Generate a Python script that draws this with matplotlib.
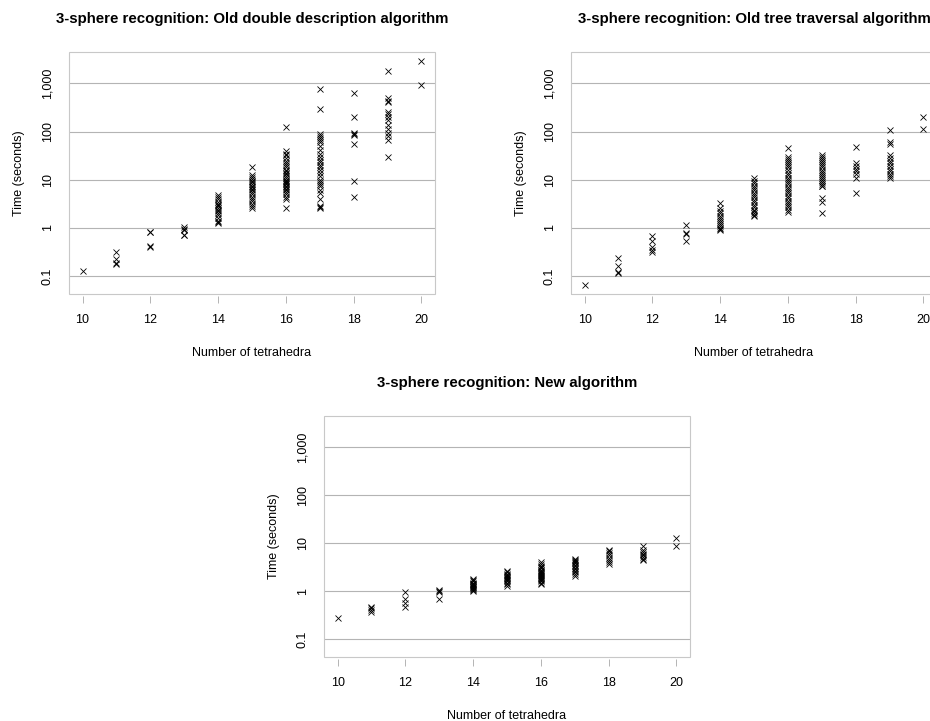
import matplotlib
matplotlib.use("Agg")
import matplotlib.pyplot as plt
from matplotlib.patches import Rectangle

plt.rcParams['font.family'] = ['Liberation Sans', 'DejaVu Sans']

n_tet = [10, 11, 12, 13, 14, 15, 16, 17, 18, 19, 20]

# old double description algorithm, seconds per triangulation
dd_times = [
    [0.13],
    [0.32, 0.23, 0.18, 0.19],
    [0.84, 0.82, 0.42, 0.41],
    [1.03, 0.95, 0.9, 0.72, 0.7],
    [4.9, 4.3, 3.9, 3.5, 3.2, 3.0, 2.8, 2.6, 2.4, 2.2, 2.0, 1.9, 1.6, 1.4, 1.3, 1.27],
    [18, 12.7, 11.5, 10.5, 9.5, 9, 8.2, 7.6, 7, 6.5, 6, 5.5, 5, 4.5, 4, 3.6, 3.2, 2.9, 2.6],
    [126, 40, 35, 32, 28, 25, 22, 20, 18, 16, 15, 14, 13, 12, 11, 10, 9.5, 9, 8.5, 8,
     7.5, 7, 6.5, 6, 5.5, 5, 4.5, 4, 2.6],
    [750, 300, 88, 80, 75, 67, 60, 50, 42, 35, 30, 26, 23, 20, 18, 16, 14, 12, 10,
     9, 8, 7.3, 6, 5.3, 4, 2.9, 2.7, 2.6],
    [640, 200, 93, 88, 83, 55, 9.25, 4.5],
    [1800, 490, 440, 420, 260, 230, 200, 175, 140, 115, 95, 80, 67, 29.5],
    [2950, 930],
]

# old tree traversal algorithm
tree_times = [
    [0.065],
    [0.24, 0.16, 0.117, 0.12],
    [0.69, 0.53, 0.41, 0.35, 0.32],
    [1.13, 0.79, 0.75, 0.55],
    [3.3, 2.6, 2.3, 2.0, 1.8, 1.6, 1.5, 1.35, 1.2, 1.1, 1.0, 0.95, 0.93],
    [10.8, 9.5, 8.5, 7.5, 6.8, 6, 5.4, 4.8, 4.3, 3.8, 3.4, 3.0, 2.7, 2.4, 2.2, 2.0, 1.85, 1.74],
    [45, 30, 27, 24, 22, 20, 18, 16, 14, 12.5, 11, 10, 9, 8, 7.2, 6.5, 5.8, 5.2,
     4.6, 4.1, 3.7, 3.3, 3, 2.7, 2.4, 2.1],
    [33, 30, 27, 25, 22, 20, 18, 16, 14.5, 13, 12, 11, 10, 9, 8.2, 7.5, 7.3, 4.2, 3.4, 2.0],
    [48, 22, 19, 17, 15, 13, 11, 5.3],
    [108, 62, 56, 33, 28, 25, 22, 19, 17, 15, 13, 12, 10.8],
    [200, 112],
]

# new algorithm
new_times = [
    [0.28],
    [0.47, 0.44, 0.41, 0.37],
    [0.95, 0.69, 0.57, 0.47],
    [1.07, 1.02, 0.98, 0.69],
    [1.8, 1.7, 1.6, 1.5, 1.45, 1.4, 1.35, 1.3, 1.25, 1.2, 1.15, 1.1, 1.05, 1.0],
    [2.7, 2.5, 2.3, 2.2, 2.1, 2.0, 1.9, 1.8, 1.7, 1.6, 1.5, 1.4, 1.3],
    [4.0, 3.7, 3.4, 3.2, 3.0, 2.8, 2.6, 2.5, 2.4, 2.3, 2.2, 2.1, 2.0, 1.9, 1.8,
     1.7, 1.6, 1.5, 1.4],
    [4.8, 4.5, 4.2, 4.0, 3.8, 3.5, 3.3, 3.1, 2.9, 2.7, 2.5, 2.3, 2.1],
    [7.3, 6.8, 6.2, 5.6, 5.0, 4.5, 4.0, 3.7],
    [8.9, 7.2, 6.5, 6.0, 5.6, 5.2, 4.8, 4.4],
    [13.1, 8.9],
]

y_ticks = [0.1, 1, 10, 100, 1000]
y_labels = ['0.1', '1', '10', '100', '1,000']
x_ticks = [10, 12, 14, 16, 18, 20]

fig = plt.figure(figsize=(9.3, 7.21), dpi=100)


def panel(rect, times, title):
    ax = fig.add_axes(rect)
    for n, ts in zip(n_tet, times):
        ax.plot([n] * len(ts), ts, linestyle='none', marker='x', color='black',
                markersize=4.6, markeredgewidth=0.6, zorder=3)
    ax.set_yscale('log')
    ax.set_xlim(9.6, 20.4)
    ax.set_ylim(10 ** -1.37, 10 ** 3.65)
    ax.set_yticks(y_ticks)
    ax.set_yticklabels(y_labels, rotation=90, va='center')
    ax.minorticks_off()
    ax.set_xticks(x_ticks)
    for y in y_ticks:
        ax.axhline(y, color='#b4b4b4', lw=0.8, zorder=1)
    for s in ax.spines.values():
        s.set_visible(False)
    ax.spines['bottom'].set_visible(True)
    ax.spines['bottom'].set_color('none')
    ax.spines['bottom'].set_position(('outward', 1.5))
    ax.add_patch(Rectangle((0, 0), 1, 1, transform=ax.transAxes, fill=False,
                           ec='#c8c8c8', lw=0.8, clip_on=False, zorder=2))
    ax.tick_params(axis='y', length=0, pad=11, labelsize=9)
    ax.tick_params(axis='x', length=5, width=0.7, color='#b4b4b4', pad=8, labelsize=9)
    ax.set_xlabel('Number of tetrahedra', fontsize=9, labelpad=15)
    ax.set_ylabel('Time (seconds)', fontsize=9, labelpad=12)
    ax.set_title(title, fontsize=10.8, fontweight='bold', pad=21)
    return ax


panel([0.0742, 0.5922, 0.3935, 0.3356], dd_times,
      '3-sphere recognition: Old double description algorithm')
panel([0.614, 0.5922, 0.3935, 0.3356], tree_times,
      '3-sphere recognition: Old tree traversal algorithm')
panel([0.3484, 0.0888, 0.3935, 0.334], new_times,
      '3-sphere recognition: New algorithm')

fig.savefig('out.png', dpi=100)
